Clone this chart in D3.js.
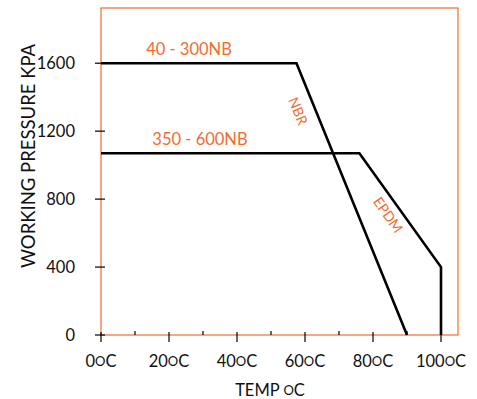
<!DOCTYPE html>
<html><head><meta charset="utf-8">
<script src="https://cdn.jsdelivr.net/npm/d3@7"></script>
<style>body{margin:0;background:#fff}svg{display:block}</style>
</head><body>
<svg id="chart" width="477" height="399"></svg>
<script>
const xTicks = [0, 20, 40, 60, 80, 100];
const xMinorTicks = [10, 30, 50, 70, 90];
const yTicks = [0, 400, 800, 1200, 1600];
const seriesNames = ["40 - 300NB", "350 - 600NB"];
const smallBoreTemp = [0, 57.5, 90];
const smallBorePressure = [1600, 1600, 0];
const largeBoreTemp = [0, 76, 100, 100];
const largeBorePressure = [1070, 1070, 400, 0];
const materialLabels = ["NBR", "EPDM"];

const orange = "#f26b30";
const font = "Lato, 'Open Sans', sans-serif";
const svg = d3.select("#chart");
const m = {l: 101, r: 19, t: 8, b: 64};
const W = 477, H = 399;
const x = d3.scaleLinear().domain([0, 105]).range([m.l, W - m.r]);
const y = d3.scaleLinear().domain([0, 1925]).range([H - m.b, m.t]);

// frame
svg.append("rect").attr("x", x(0)).attr("y", y(1925)).attr("width", x(105) - x(0)).attr("height", y(0) - y(1925))
  .attr("fill", "none").attr("stroke", orange).attr("stroke-width", 1.2);

// y ticks
const g = svg.append("g");
yTicks.forEach(v => {
  g.append("line").attr("x1", x(0) - 6).attr("x2", x(0) + 4).attr("y1", y(v)).attr("y2", y(v)).attr("stroke", "#000").attr("stroke-width", 1.2);
  g.append("text").attr("x", 75).attr("y", y(v) + 6).attr("text-anchor", "end").attr("font-family", font).attr("font-size", 16.5).attr("fill", "#111").text(v);
});
// x ticks
xTicks.forEach(v => {
  g.append("line").attr("x1", x(v)).attr("x2", x(v)).attr("y1", y(0) - 3).attr("y2", y(0) + 7).attr("stroke", "#000").attr("stroke-width", 1.2);
  const t = g.append("text").attr("x", x(v)).attr("y", y(0) + 32).attr("text-anchor", "middle").attr("font-family", font).attr("font-size", 16.5).attr("fill", "#111");
  t.append("tspan").text(v);
  t.append("tspan").attr("font-size", 13).attr("dy", -1).text("O");
  t.append("tspan").attr("dy", 1).text("C");
});
xMinorTicks.forEach(v => {
  g.append("line").attr("x1", x(v)).attr("x2", x(v)).attr("y1", y(0) - 4).attr("y2", y(0)).attr("stroke", "#000").attr("stroke-width", 1.2);
});

// lines
const line = d3.line().x(d => x(d[0])).y(d => y(d[1]));
svg.append("path").datum(smallBoreTemp.map((t, i) => [t, smallBorePressure[i]]))
  .attr("d", line).attr("fill", "none").attr("stroke", "#000").attr("stroke-width", 2.6);
svg.append("path").datum(largeBoreTemp.map((t, i) => [t, largeBorePressure[i]]))
  .attr("d", line).attr("fill", "none").attr("stroke", "#000").attr("stroke-width", 2.6);

// series labels
svg.append("text").attr("x", 189).attr("y", y(1600) - 8).attr("text-anchor", "middle").attr("font-family", font).attr("font-size", 16.5).attr("fill", orange).text(seriesNames[0]);
svg.append("text").attr("x", 200).attr("y", y(1070) - 8).attr("text-anchor", "middle").attr("font-family", font).attr("font-size", 16.5).attr("fill", orange).text(seriesNames[1]);

// material labels
svg.append("text").attr("transform", "translate(298,111) rotate(68)").attr("text-anchor", "middle").attr("dy", "0.35em")
  .attr("font-family", font).attr("font-size", 14).attr("fill", orange).text(materialLabels[0]);
svg.append("text").attr("transform", "translate(388,215) rotate(55)").attr("text-anchor", "middle").attr("dy", "0.35em")
  .attr("font-family", font).attr("font-size", 14).attr("fill", orange).text(materialLabels[1]);

// axis titles
svg.append("text").attr("transform", "translate(35,156) rotate(-90)").attr("text-anchor", "middle")
  .attr("font-family", font).attr("font-size", 18.5).attr("fill", "#111").text("WORKING PRESSURE KPA");
const xt = svg.append("text").attr("x", 270).attr("y", 396).attr("text-anchor", "middle").attr("font-family", font).attr("font-size", 16.5).attr("fill", "#111");
xt.append("tspan").text("TEMP ");
xt.append("tspan").attr("font-size", 13).attr("dy", -1).text("O");
xt.append("tspan").attr("dy", 1).text("C");
</script>
</body></html>
